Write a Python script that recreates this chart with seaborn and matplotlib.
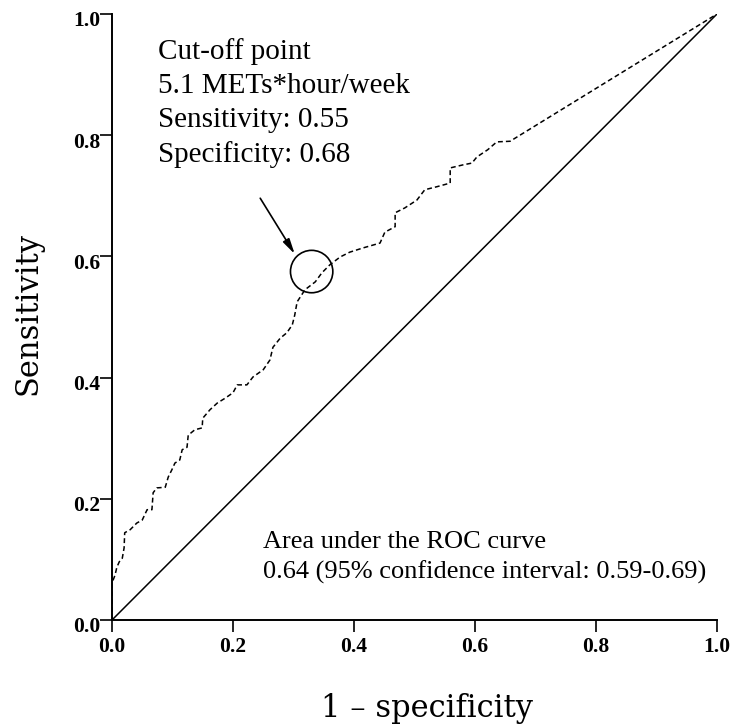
import matplotlib
matplotlib.use("Agg")
import matplotlib.pyplot as plt
import matplotlib.patches as mpatches
import matplotlib.transforms as mtransforms
import seaborn as sns
import pandas as pd

# ROC curve (1 - specificity, sensitivity)
fpr = [0.000, 0.000, 0.005, 0.008, 0.012, 0.017, 0.020, 0.021, 0.030, 0.041,
       0.050, 0.058, 0.066, 0.068, 0.074, 0.088, 0.093, 0.099, 0.104, 0.112,
       0.116, 0.124, 0.126, 0.137, 0.149, 0.150, 0.162, 0.174, 0.187, 0.200,
       0.207, 0.223, 0.233, 0.250, 0.261, 0.266, 0.278, 0.289, 0.298, 0.302,
       0.306, 0.319, 0.336, 0.347, 0.360, 0.377, 0.393, 0.415, 0.443, 0.451,
       0.468, 0.468, 0.484, 0.504, 0.517, 0.537, 0.559, 0.559, 0.580, 0.595,
       0.603, 0.621, 0.636, 0.658, 1.000]
tpr = [0.000, 0.061, 0.074, 0.087, 0.096, 0.102, 0.119, 0.144, 0.149, 0.160,
       0.165, 0.182, 0.182, 0.210, 0.218, 0.219, 0.236, 0.248, 0.259, 0.264,
       0.281, 0.285, 0.305, 0.314, 0.317, 0.333, 0.347, 0.358, 0.366, 0.375,
       0.388, 0.388, 0.401, 0.413, 0.429, 0.450, 0.465, 0.474, 0.487, 0.503,
       0.525, 0.545, 0.558, 0.573, 0.586, 0.599, 0.607, 0.614, 0.622, 0.640,
       0.649, 0.672, 0.680, 0.693, 0.710, 0.715, 0.721, 0.746, 0.751, 0.754,
       0.764, 0.776, 0.789, 0.790, 1.000]

ref_x = [0.0, 1.0]
ref_y = [0.0, 1.0]

ticks = [0.0, 0.2, 0.4, 0.6, 0.8, 1.0]
tick_labels = ["0.0", "0.2", "0.4", "0.6", "0.8", "1.0"]

cut_x, cut_y = 0.33, 0.575
cut_text = "Cut-off point\n5.1 METs*hour/week\nSensitivity: 0.55\nSpecificity: 0.68"
auc_text = "Area under the ROC curve\n0.64 (95% confidence interval: 0.59-0.69)"

sns.set_theme(style="ticks")
plt.rcParams["font.family"] = ["Liberation Serif", "DejaVu Serif"]

fig = plt.figure(figsize=(7.45, 7.26), dpi=100)
ax = fig.add_axes([112/745, 106/726, 605/745, 606/726])

roc = pd.DataFrame({"fpr": fpr, "tpr": tpr})
ref = pd.DataFrame({"x": ref_x, "y": ref_y})

sns.lineplot(data=ref, x="x", y="y", ax=ax, color="black", lw=1.1,
             estimator=None, sort=False)
sns.lineplot(data=roc, x="fpr", y="tpr", ax=ax, color="black", lw=1.1,
             estimator=None, sort=False, linestyle=(0, (3.2, 2.0)))

ax.set_xlim(0, 1)
ax.set_ylim(0, 1)
ax.set_xticks(ticks)
ax.set_yticks(ticks)
ax.set_xticklabels(tick_labels)
ax.set_yticklabels(tick_labels)
for lab in ax.get_xticklabels() + ax.get_yticklabels():
    lab.set_fontweight("bold")
    lab.set_fontsize(15.5)
    lab.set_color("black")
ax.tick_params(axis="both", direction="out", length=8.5, width=1.2, color="black")
ax.tick_params(axis="x", pad=4)
ax.tick_params(axis="y", pad=0)
# y tick labels sit slightly below their ticks in the reference
off = mtransforms.ScaledTranslation(0, -5/100, fig.dpi_scale_trans)
for lab in ax.get_yticklabels():
    lab.set_transform(lab.get_transform() + off)

for s in ["top", "right"]:
    ax.spines[s].set_visible(False)
for s in ["left", "bottom"]:
    ax.spines[s].set_color("black")
    ax.spines[s].set_linewidth(1.4)
ax.set_facecolor("white")
ax.grid(False)

ax.set_xlabel("1 \u2013 specificity", fontsize=22, family=["DejaVu Serif"], color="black")
ax.set_ylabel("Sensitivity", fontsize=22, family=["DejaVu Serif"], color="black")
ax.xaxis.set_label_coords(0.52, -0.12)
ax.yaxis.set_label_coords(-0.114, 0.505)

circ = mpatches.Circle((cut_x, cut_y), 0.035, fill=False, ec="black", lw=1.2,
                       transform=ax.transData)
ax.add_patch(circ)
ax.annotate("", xy=(0.302, 0.604), xytext=(0.245, 0.696),
            arrowprops=dict(arrowstyle="-|>,head_length=0.75,head_width=0.18",
                            color="black", lw=1.2, shrinkA=0, shrinkB=0))

# va='baseline' on multi-line text anchors the last line's baseline
ax.text(0.076, 0.755, cut_text, fontsize=21, va="baseline", ha="left",
        linespacing=1.4, color="black")
ax.text(0.25, 0.069, auc_text, fontsize=19, va="baseline", ha="left",
        linespacing=1.4, color="black")

fig.savefig("out.png", dpi=100, facecolor="white")
